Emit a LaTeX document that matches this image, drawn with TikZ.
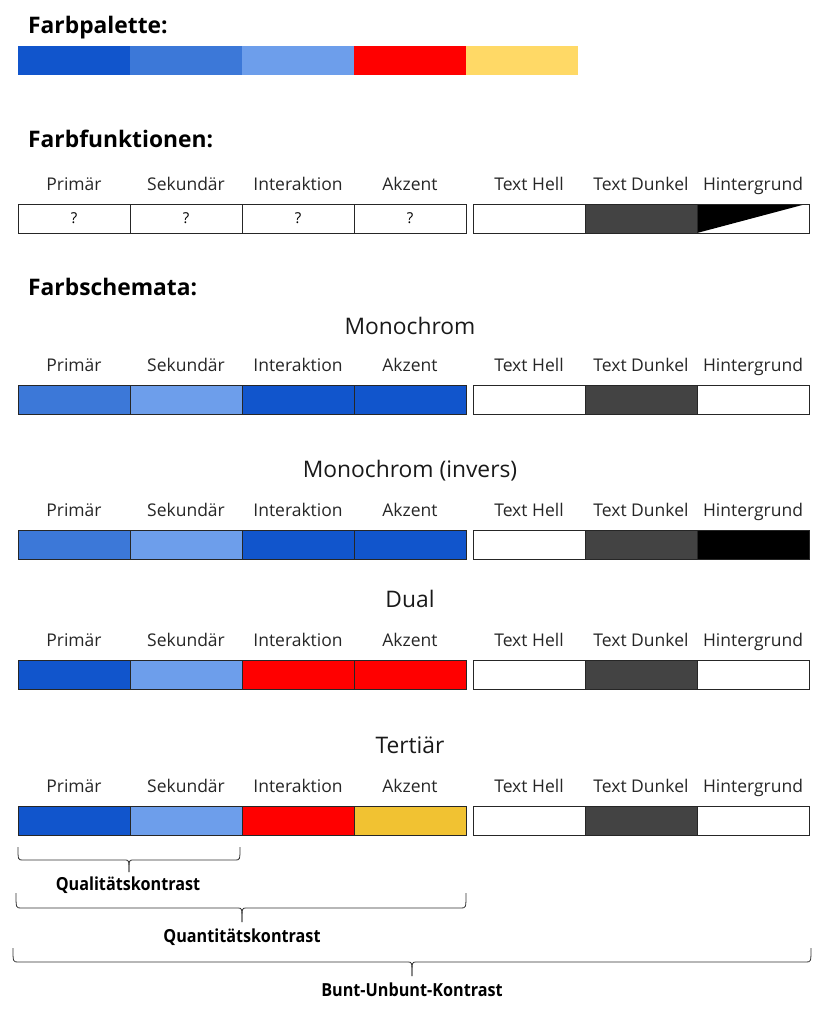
\documentclass[tikz,border=0pt]{standalone}
\usepackage{fontspec}
\setmainfont{Open Sans}
\newfontfamily\condfont{Open Sans}[FakeStretch=0.9]
\definecolor{pA}{HTML}{1155CC}
\definecolor{pB}{HTML}{3C78D8}
\definecolor{pC}{HTML}{6D9EEB}
\definecolor{pD}{HTML}{FF0000}
\definecolor{pE}{HTML}{FFD966}
\definecolor{pF}{HTML}{F1C232}
\definecolor{dk}{HTML}{434343}
\tikzset{
 cell/.style={draw=black!85, line width=0.9pt, minimum width=112pt, minimum height=29pt, inner sep=0pt, outer sep=0pt, anchor=north west, font=\fontsize{15}{16}\selectfont},
 swatch/.style={minimum width=112pt, minimum height=29pt, inner sep=0pt, outer sep=0pt, anchor=north west},
 lbl/.style={font=\fontsize{17.5}{18}\selectfont, text=black!85, inner sep=0pt, anchor=base},
 head/.style={font=\bfseries\fontsize{22.8}{24}\selectfont, anchor=base west, inner sep=0pt},
 ttl/.style={font=\fontsize{22.8}{24}\selectfont, inner sep=0pt, text=black!90, anchor=base},
 brace/.style={draw=black!80, line width=0.8pt},
 blbl/.style={font=\condfont\bfseries\fontsize{18}{18}\selectfont, inner sep=0pt, anchor=base}
}
\newcommand\schemerow[9]{%
 \foreach \xx/\cc/\tt [count=\i] in {18/#3/Primär, 130/#4/Sekundär, 242/#5/Interaktion, 354/#6/Akzent, 473/#7/Text Hell, 585/#8/Text Dunkel, 697/#9/Hintergrund}{
   \node[cell, fill=\cc] (#1\i) at (\xx,#2) {};
   \node[lbl] (#1l\i) at ([yshift=14pt]#1\i.north) {\tt};
 }%
}
\newcommand\bracedraw[6]{% x1 x2 xc ytop yline ytip
 \draw[brace] (#1,#4) .. controls (#1,#5) .. ({#1+5},#5) -- ({#3-4},#5) .. controls (#3,#5) .. (#3,#6);
 \draw[brace] (#2,#4) .. controls (#2,#5) .. ({#2-5},#5) -- ({#3+4},#5) .. controls (#3,#5) .. (#3,#6);
}
\begin{document}
\begin{tikzpicture}[x=1pt,y=-1pt]
\useasboundingbox (0,0) rectangle (829,1013);
% Farbpalette
\node[head] (h1) at (28,33) {Farbpalette:};
\foreach \xx/\cc [count=\i] in {18/pA,130/pB,242/pC,354/pD,466/pE}{
  \node[swatch, fill=\cc] (p\i) at (\xx,46) {};
}
% Farbfunktionen
\node[head] (h2) at (28,147) {Farbfunktionen:};
\schemerow{f}{204}{white}{white}{white}{white}{white}{dk}{white}
\foreach \i in {1,2,3,4}{ \node[font=\fontsize{15}{16}\selectfont] (q\i) at (f\i.center) {?}; }
\fill[black] (f7.north west) -- ([xshift=-3pt]f7.north east) -- (f7.south west) -- cycle;
\draw[black!85, line width=0.9pt] (f7.north west) rectangle (f7.south east);
% Farbschemata
\node[head] (h3) at (28,295) {Farbschemata:};
\node[ttl] (t1) at (410,334) {Monochrom};
\schemerow{m}{385}{pB}{pC}{pA}{pA}{white}{dk}{white}
\node[ttl] (t2) at (410,477) {Monochrom (invers)};
\schemerow{i}{530}{pB}{pC}{pA}{pA}{white}{dk}{black}
\node[ttl] (t3) at (410,607) {Dual};
\schemerow{d}{660}{pA}{pC}{pD}{pD}{white}{dk}{white}
\node[ttl] (t4) at (410,753) {Tertiär};
\schemerow{t}{806}{pA}{pC}{pD}{pF}{white}{dk}{white}
% Braces
\bracedraw{18}{240}{129}{847}{860}{872}
\node[blbl] (b1) at (128,890) {Qualitätskontrast};
\bracedraw{16}{466}{242}{893}{908}{922}
\node[blbl] (b2) at (242,942) {Quantitätskontrast};
\bracedraw{13}{811}{412}{948}{962}{976}
\node[blbl] (b3) at (412,996) {Bunt-Unbunt-Kontrast};
\end{tikzpicture}
\end{document}
